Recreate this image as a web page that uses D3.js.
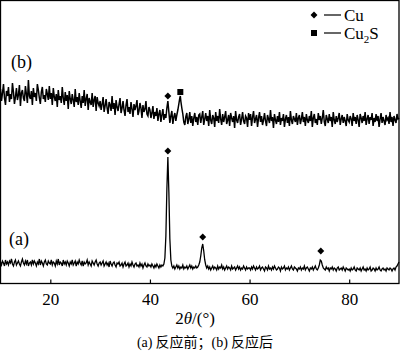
<!DOCTYPE html>
<html><head><meta charset="utf-8">
<script src="https://cdn.jsdelivr.net/npm/d3@7"></script>
<style>body{margin:0;background:#fff}svg{display:block}</style>
</head><body>
<svg id="c" width="400" height="355"></svg>
<script>
// ---- data ----
const angleStart = 10, angleStep = 0.2;
const xTicks = [20, 40, 60, 80];
// trace (a): before reaction (intensity, a.u.)
const traceA = [
22,19,23,21,18,24,20,22,19,23,21,25,20,18,22,24,19,21,23,20,
18,22,25,21,19,23,20,24,18,21,22,19,24,20,23,21,18,22,20,25,
19,23,21,18,22,24,20,19,23,21,
20,24,19,22,21,18,23,20,25,19,22,21,18,24,20,22,19,23,21,18,
22,20,24,19,21,23,18,22,20,24,21,19,23,18,22,20,21,24,19,22,
20,18,23,21,19,22,24,20,18,21,
22,19,21,23,18,20,22,19,21,17,23,20,18,21,22,19,17,21,20,22,
18,19,21,17,20,22,18,19,21,17,20,18,22,19,17,20,21,18,19,17,
21,18,20,16,19,21,18,17,20,18,
19,17,20,18,16,19,17,20,18,16,19,17,19,18,20,26,48,95,127,92,
45,24,18,16,18,15,17,19,16,18,15,17,16,19,15,17,16,18,15,17,
19,16,18,15,17,16,18,16,17,19,
22,28,36,40,33,24,19,16,18,15,17,14,16,18,15,17,16,14,18,15,
17,16,19,15,17,14,16,18,15,17,16,14,18,15,16,17,14,16,18,15,
17,14,16,15,18,16,14,17,15,16,
16,14,17,15,18,16,14,17,15,16,18,14,16,17,15,13,17,16,14,18,
15,16,14,17,15,18,16,14,15,17,16,13,17,15,16,18,14,16,15,17,
14,16,18,15,14,17,16,15,13,16,
15,17,14,16,15,18,14,16,17,15,13,16,15,17,14,16,18,15,14,16,
19,24,23,19,16,15,14,17,15,16,13,16,15,17,14,16,15,13,16,17,
14,15,16,14,17,15,13,16,15,14,
15,13,16,14,15,17,14,13,16,15,14,16,13,15,17,14,15,13,16,14,
15,17,13,14,16,15,13,16,14,15,17,14,13,15,16,14,15,13,16,15,
14,16,15,13,15,16,14,17,18,20,
22];
// trace (b): after reaction (intensity, a.u., offset)
const traceB = [
195,183,191,200,186,179,193,188,197,182,190,185,201,192,180,187,196,184,189,199,
178,191,194,186,183,198,190,181,204,188,185,193,179,196,187,191,183,200,194,186,
180,192,197,185,189,182,195,190,184,198,
185,191,179,196,187,183,190,177,194,184,188,181,197,186,179,192,183,189,175,193,
185,180,190,184,177,195,182,187,179,191,183,176,188,181,194,178,185,190,174,186,
182,179,191,177,184,188,173,187,181,178,
183,174,180,187,172,178,185,176,170,182,179,173,188,175,181,169,184,177,173,180,
186,171,176,183,174,168,179,185,172,177,170,182,175,167,180,174,178,184,169,173,
181,176,166,179,172,175,183,170,168,177,
174,166,171,178,165,172,168,176,163,170,174,162,169,175,164,170,166,176,183,172,
161,168,173,160,167,171,163,169,174,180,186,183,176,170,162,159,167,171,160,165,
172,161,168,158,166,171,162,167,159,169,
170,161,167,173,159,165,171,163,168,158,174,164,160,169,166,157,172,163,168,161,
175,165,159,170,162,167,173,160,164,169,158,171,166,162,168,156,173,164,161,167,
170,159,165,172,163,160,168,166,157,171,
164,170,158,167,173,161,165,169,157,166,172,162,168,159,164,171,163,158,169,165,
161,174,163,167,156,170,164,160,168,162,172,159,166,163,170,157,165,169,161,167,
158,173,164,160,168,165,162,171,159,166,
169,160,165,172,162,167,158,170,164,161,168,163,173,157,166,170,161,165,159,171,
164,168,160,166,174,162,158,169,165,161,170,163,167,157,172,164,160,168,162,166,
171,159,165,169,161,167,163,158,170,164,
162,168,165,158,171,163,167,160,169,164,157,170,166,161,168,163,172,159,165,169,
160,167,164,171,158,166,162,170,163,168,157,165,171,161,167,163,159,169,164,166,
160,172,162,167,158,168,164,161,170,165,
166];
const peakBAngles = [46.1];
const peakBValues = [188];
// phase markers
const cuAngles = [43.6, 50.6, 74.3, 43.6];
const cuValues = [133, 47, 33, 188];
const cu2sAngles = [46.1];
const cu2sValues = [192];

// ---- drawing ----
const svg = d3.select("#c");
const x = d3.scaleLinear().domain([10, 90]).range([0.5, 399]);
const y = d3.scaleLinear().domain([0, 284]).range([284, 0]);
const serif = "'Liberation Serif','Times New Roman',serif";

function build(vals, pa, pv) {
  const pts = vals.map((v, i) => [angleStart + i * angleStep, v]);
  pa.forEach((a, i) => pts.push([a, pv[i]]));
  pts.sort((p, q) => p[0] - q[0]);
  return pts;
}
const line = d3.line().x(d => x(d[0])).y(d => y(d[1]));

svg.append("path").datum(build(traceB, peakBAngles, peakBValues))
  .attr("d", line).attr("fill", "none").attr("stroke", "#000").attr("stroke-width", 1.5);
svg.append("path").datum(build(traceA, [], []))
  .attr("d", line).attr("fill", "none").attr("stroke", "#000").attr("stroke-width", 1.3);

// frame
svg.append("rect").attr("x", 0.5).attr("y", 0.5).attr("width", 398.5).attr("height", 283)
  .attr("fill", "none").attr("stroke", "#000").attr("stroke-width", 1.3);

// axis
const ax = svg.append("g").attr("transform", "translate(0,283.5)")
  .call(d3.axisBottom(x).tickValues(xTicks).tickSizeInner(-4).tickSizeOuter(0).tickFormat(d3.format("d")));
ax.select(".domain").remove();
ax.selectAll("line").attr("stroke", "#000").attr("stroke-width", 1.2);
ax.selectAll("text").attr("y", 21).attr("dy", null)
  .attr("font-family", serif).attr("font-size", 17).attr("fill", "#000");

// markers
const diamond = d3.symbol().type(d3.symbolSquare).size(24);
const square = d3.symbol().type(d3.symbolSquare).size(36);
cuAngles.forEach((a, i) => {
  svg.append("path").attr("d", diamond())
    .attr("transform", `translate(${x(a)},${y(cuValues[i])}) rotate(45)`).attr("fill", "#000");
});
cu2sAngles.forEach((a, i) => {
  svg.append("path").attr("d", square())
    .attr("transform", `translate(${x(a)},${y(cu2sValues[i])})`).attr("fill", "#000");
});

// trace labels
svg.append("text").attr("x", 11).attr("y", 68).attr("font-family", serif).attr("font-size", 18).text("(b)");
svg.append("text").attr("x", 9).attr("y", 245).attr("font-family", serif).attr("font-size", 18).text("(a)");

// legend
const lg = svg.append("g");
lg.append("path").attr("d", diamond()).attr("transform", "translate(314,15) rotate(45)");
lg.append("line").attr("x1", 324).attr("x2", 341).attr("y1", 15).attr("y2", 15).attr("stroke", "#000").attr("stroke-width", 1.2);
lg.append("text").attr("x", 344).attr("y", 21).attr("font-family", serif).attr("font-size", 17).text("Cu");
lg.append("path").attr("d", square()).attr("transform", "translate(314,33)");
lg.append("line").attr("x1", 324).attr("x2", 341).attr("y1", 33).attr("y2", 33).attr("stroke", "#000").attr("stroke-width", 1.2);
const t2 = lg.append("text").attr("x", 344).attr("y", 39).attr("font-family", serif).attr("font-size", 17);
t2.append("tspan").text("Cu");
t2.append("tspan").attr("font-size", 11).attr("dy", 4).text("2");
t2.append("tspan").attr("dy", -4).text("S");

// axis title
const at = svg.append("text").attr("x", 195).attr("y", 324).attr("text-anchor", "middle")
  .attr("font-family", serif).attr("font-size", 17);
at.append("tspan").text("2");
at.append("tspan").attr("font-style", "italic").text("θ");
at.append("tspan").text("/(°)");

// caption
const cap = svg.append("text").attr("x", 205).attr("y", 347).attr("text-anchor", "middle")
  .attr("font-size", 14).attr("font-family", "'Noto Sans CJK SC',sans-serif");
cap.append("tspan").attr("font-family", serif).text("(a)");
cap.append("tspan").text(" 反应前；");
cap.append("tspan").attr("font-family", serif).text("(b)");
cap.append("tspan").text(" 反应后");
</script>
</body></html>
